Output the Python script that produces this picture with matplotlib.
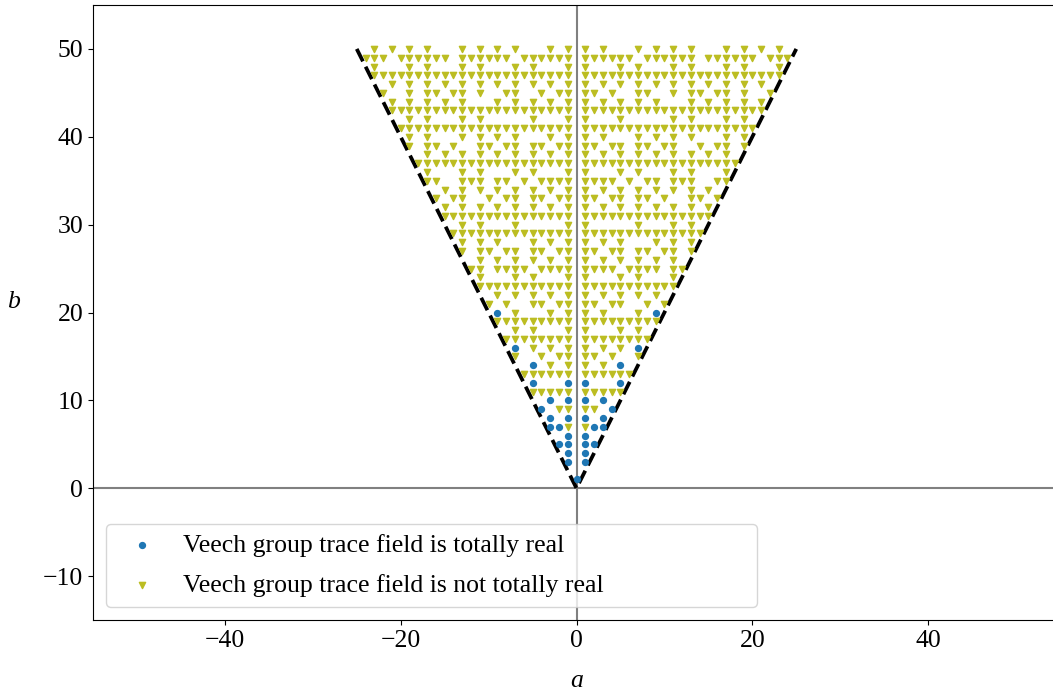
import matplotlib
matplotlib.use('Agg')
import matplotlib.pyplot as plt

plt.rcParams['font.family'] = ['Liberation Serif', 'DejaVu Serif']
plt.rcParams['font.size'] = 18.5

# ---- data ----
# rows b = 1..50; for each row the positive a values whose trace field is NOT totally real
# (the chart is mirror-symmetric in a)
b_values = list(range(1, 51))
notreal_pos_a = [
    [],                                             # 1
    [],                                             # 2
    [],                                             # 3
    [],                                             # 4
    [],                                             # 5
    [],                                             # 6
    [1],                                            # 7
    [],                                             # 8
    [1, 2],                                         # 9
    [],                                             # 10
    [1, 2, 3, 4, 5],                                # 11
    [],                                             # 12
    [1, 2, 3, 4, 5, 6],                             # 13
    [1, 3],                                         # 14
    [1, 2, 4, 7],                                   # 15
    [1, 3, 5],                                      # 16
    [1, 2, 3, 4, 5, 6, 7, 8],                       # 17
    [1, 5, 7],                                      # 18
    [1, 2, 3, 4, 5, 6, 7, 8, 9],                    # 19
    [1, 3, 7],                                      # 20
    [1, 2, 4, 5, 8, 10],                            # 21
    [1, 3, 5, 7, 9],                                # 22
    [1, 2, 3, 4, 5, 6, 7, 8, 9, 10, 11],            # 23
    [1, 5, 7, 11],                                  # 24
    [1, 2, 3, 4, 6, 7, 8, 9, 11, 12],               # 25
    [1, 3, 5, 7, 9, 11],                            # 26
    [1, 2, 4, 5, 7, 8, 10, 11, 13],                 # 27
    [1, 3, 5, 9, 11, 13],                           # 28
    [1, 2, 3, 4, 5, 6, 7, 8, 9, 10, 11, 12, 13, 14],  # 29
    [1, 7, 11, 13],                                 # 30
    [1, 2, 3, 4, 5, 6, 7, 8, 9, 10, 11, 12, 13, 14, 15],  # 31
    [1, 3, 5, 7, 9, 11, 13, 15],                    # 32
    [1, 2, 4, 5, 7, 8, 10, 13, 14, 16],             # 33
    [1, 3, 5, 7, 9, 11, 13, 15],                    # 34
    [1, 2, 3, 4, 6, 8, 9, 11, 12, 13, 16, 17],      # 35
    [1, 5, 7, 11, 13, 17],                          # 36
    [1, 2, 3, 4, 5, 6, 7, 8, 9, 10, 11, 12, 13, 14, 15, 16, 17, 18],  # 37
    [1, 3, 5, 7, 9, 11, 13, 15, 17],                # 38
    [1, 2, 4, 5, 7, 8, 10, 11, 14, 16, 17, 19],     # 39
    [1, 3, 7, 9, 11, 13, 17, 19],                   # 40
    [1, 2, 3, 4, 5, 6, 7, 8, 9, 10, 11, 12, 13, 14, 15, 16, 17, 18, 19, 20],  # 41
    [1, 5, 11, 13, 17, 19],                         # 42
    [1, 2, 3, 4, 5, 6, 7, 8, 9, 10, 11, 12, 13, 14, 15, 16, 17, 18, 19, 20, 21],  # 43
    [1, 3, 5, 7, 9, 13, 15, 17, 19, 21],            # 44
    [1, 2, 4, 7, 8, 11, 13, 14, 16, 17, 19, 22],    # 45
    [1, 3, 5, 7, 9, 11, 13, 15, 17, 19, 21],        # 46
    [1, 2, 3, 4, 5, 6, 7, 8, 9, 10, 11, 12, 13, 14, 15, 16, 17, 18, 19, 20, 21, 22, 23],  # 47
    [1, 5, 7, 11, 13, 17, 19, 23],                  # 48
    [1, 2, 3, 4, 5, 6, 8, 9, 10, 11, 12, 13, 15, 16, 17, 18, 19, 20, 22, 23, 24],  # 49
    [1, 3, 7, 9, 11, 13, 17, 19, 21, 23],           # 50
]

# totally real points (non-negative a; mirrored for a > 0)
real_a = [0, 1, 1, 1, 2, 1, 2, 3, 1, 3, 4, 1, 3, 1, 5, 5, 7, 9]
real_b = [1, 3, 4, 5, 5, 6, 7, 7, 8, 8, 9, 10, 10, 12, 12, 14, 16, 20]

cone_a = [-25, 0, 25]
cone_b = [50, 0, 50]

label_real = 'Veech group trace field is totally real'
label_notreal = 'Veech group trace field is not totally real'

# ---- build mirrored point lists ----
nx, ny = [], []
for b, row in zip(b_values, notreal_pos_a):
    for a in row:
        nx += [-a, a]
        ny += [b, b]
rx, ry = [], []
for a, b in zip(real_a, real_b):
    if a == 0:
        rx.append(a); ry.append(b)
    else:
        rx += [-a, a]
        ry += [b, b]

W, H = 1053, 697
fig = plt.figure(figsize=(W / 100, H / 100), dpi=100)
ax = fig.add_axes([93 / W, (H - 620) / H, 967 / W, 615 / H])

ax.axhline(0, color='gray', lw=1.5, zorder=1)
ax.axvline(0, color='gray', lw=1.5, zorder=1)
ax.plot(cone_a, cone_b, color='black', ls='--', lw=2.7, zorder=2)

ax.scatter(rx, ry, s=18, marker='o', color='C0', zorder=3, label=label_real)
ax.scatter(nx, ny, s=20, marker='v', color='C8', zorder=3, label=label_notreal)

ax.set_xlim(-55, 55)
ax.set_ylim(-15, 55)
ax.set_xticks([-40, -20, 0, 20, 40])
ax.set_yticks([-10, 0, 10, 20, 30, 40, 50])
ax.set_xlabel('a', fontstyle='italic', labelpad=13)
ax.set_ylabel('b', fontstyle='italic', rotation=0, labelpad=21)

ax.legend(loc='lower left', bbox_to_anchor=(0, 0, 0.70, 1), mode='expand',
          labelspacing=0.65, handletextpad=0.6)

fig.savefig('out.png', dpi=100)
